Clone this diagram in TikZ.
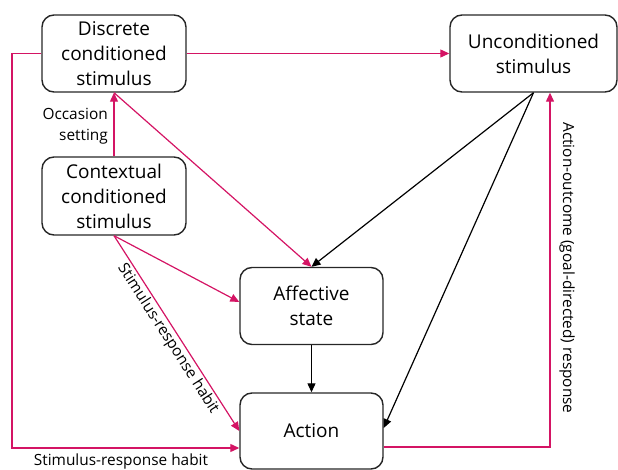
\documentclass[tikz,border=0pt]{standalone}
\usepackage{fontspec}
\setmainfont{Open Sans}
\usetikzlibrary{arrows.meta,calc}
\definecolor{pk}{RGB}{212,20,100}
\begin{document}
\begin{tikzpicture}[x=1pt,y=-1pt,
  box/.style={draw=black!85,line width=1.4pt,rounded corners=12pt,align=center,
    font=\fontsize{19}{25}\selectfont,inner sep=0pt},
  pa/.style={draw=pk,line width=1.2pt,-{Triangle[length=9pt,width=8pt]}},
  ba/.style={draw=black,line width=1.2pt,-{Triangle[length=9pt,width=8pt]}},
  lbl/.style={font=\fontsize{15.4}{21}\selectfont,inner sep=1pt}]
\useasboundingbox (0,0) rectangle (618,470);
\node[box,minimum width=144pt,minimum height=77pt] (disc) at (114,53.5) {Discrete\\conditioned\\stimulus};
\node[box,minimum width=144pt,minimum height=78pt] (ctx) at (114,196) {Contextual\\conditioned\\stimulus};
\node[box,minimum width=167pt,minimum height=77pt] (unc) at (533.5,53.5) {Unconditioned\\stimulus};
\node[box,minimum width=143pt,minimum height=77pt] (aff) at (311.5,306) {Affective\\state};
\node[box,minimum width=143pt,minimum height=76pt] (act) at (311.5,431) {Action};
\coordinate (hl) at (12,448);
\coordinate (hr) at (550,447);
% pink connectors
\draw[pa] (disc.east) -- (unc.west);
\draw[pa] (disc.west) -| (hl) -- (hl -| act.west);
\draw[pa] (ctx.north) -- (disc.south);
\draw[pa] (disc.south) -- (aff.north);
\draw[pa] (ctx.south) -- ($(aff.west)+(0,-4)$);
\draw[pa] (ctx.south) -- (act.west) node[lbl,sloped,below,pos=0.5,inner sep=2pt,text=black] {Stimulus-response habit};
\draw[pa] (hr -| act.east) -- (hr) -- (hr |- unc.south);
% black connectors
\draw[ba] (unc.south) -- (aff.north);
\draw[ba] (unc.south) -- ($(act.east)+(0,-3)$);
\draw[ba] (aff.south) -- (act.north);
% labels
\node[lbl,align=right,anchor=east] (occ) at (109,126) {Occasion\\setting};
\node[lbl] (srh) at (121,461) {Stimulus-response habit};
\node[lbl,rotate=-90] (ao) at (567,268) {Action-outcome (goal-directed) response};
\end{tikzpicture}
\end{document}
